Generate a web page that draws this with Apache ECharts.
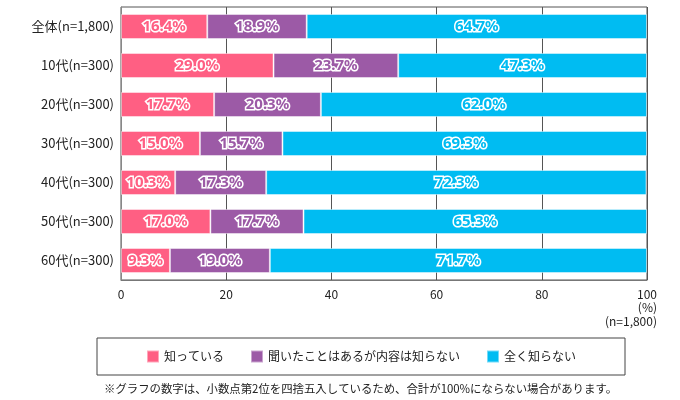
<!DOCTYPE html>
<html>
<head>
<meta charset="utf-8">
<script src="https://cdn.jsdelivr.net/npm/echarts@6/dist/echarts.min.js"></script>
<style>
    html, body { margin: 0; padding: 0; background: #fff; }
    #chart { width: 680px; height: 400px; }
</style>
</head>
<body>
<div id="chart"></div>
<script>
'use strict';

// 年代別カテゴリ
var categories = ['全体(n=1,800)', '10代(n=300)', '20代(n=300)', '30代(n=300)', '40代(n=300)', '50代(n=300)', '60代(n=300)'];
var seriesNames = ['知っている', '聞いたことはあるが内容は知らない', '全く知らない'];

// 各回答の割合 (%)
var knowValues = [16.4, 29.0, 17.7, 15.0, 10.3, 17.0, 9.3];
var heardValues = [18.9, 23.7, 20.3, 15.7, 17.3, 17.7, 19.0];
var unknownValues = [64.7, 47.3, 62.0, 69.3, 72.3, 65.3, 71.7];

var xTicks = [0, 20, 40, 60, 80, 100];

var colors = ['#ff5f83', '#9c5aa6', '#00bcf2'];
var fontJa = '"Noto Sans CJK JP", "Noto Sans", sans-serif';

var chart = echarts.init(document.getElementById('chart'));

function makeSeries(name, values, idx) {
    return {
        name: name,
        type: 'bar',
        stack: 'total',
        barWidth: 25,
        data: values,
        itemStyle: {
            color: colors[idx],
            borderColor: 'rgba(255,255,255,0.45)',
            borderWidth: 1
        },
        label: {
            show: true,
            position: 'inside',
            formatter: function (p) {
                return p.value.toFixed(1) + '%';
            },
            color: colors[idx],
            fontFamily: '"Noto Sans", sans-serif',
            fontWeight: 'bold',
            fontSize: 15,
            textBorderColor: '#fff',
            textBorderWidth: 3
        }
    };
}

chart.setOption({
    animation: false,
    textStyle: { fontFamily: fontJa },
    grid: {
        left: 121,
        right: 33,
        top: 7,
        bottom: 120,
        show: true,
        borderColor: '#555',
        borderWidth: 1
    },
    legend: {
        data: seriesNames,
        left: 97,
        top: 338,
        padding: [11.5, 49, 11.5, 49],
        itemWidth: 12,
        itemHeight: 12,
        itemGap: 26,
        icon: 'rect',
        borderColor: '#444',
        borderWidth: 1,
        textStyle: { fontSize: 12, color: '#222', fontFamily: fontJa }
    },
    xAxis: {
        type: 'value',
        min: xTicks[0],
        max: xTicks[xTicks.length - 1],
        interval: 20,
        axisLine: { show: true, lineStyle: { color: '#777' } },
        axisTick: { show: false },
        splitLine: { show: true, lineStyle: { color: '#555' } },
        axisLabel: { color: '#222', fontSize: 12, margin: 8, fontFamily: fontJa }
    },
    yAxis: {
        type: 'category',
        inverse: true,
        data: categories,
        axisLine: { show: true, lineStyle: { color: '#888' } },
        axisTick: { show: false },
        axisLabel: { color: '#222', fontSize: 13, margin: 7, fontFamily: fontJa }
    },
    series: [
        makeSeries(seriesNames[0], knowValues, 0),
        makeSeries(seriesNames[1], heardValues, 1),
        makeSeries(seriesNames[2], unknownValues, 2)
    ],
    graphic: [
        {
            type: 'text',
            right: 23,
            top: 301,
            style: { text: '(%)', fill: '#222', fontSize: 12, fontFamily: fontJa, align: 'right' }
        },
        {
            type: 'text',
            right: 23,
            top: 315,
            style: { text: '(n=1,800)', fill: '#222', fontSize: 12, fontFamily: fontJa, align: 'right' }
        },
        {
            type: 'text',
            left: 104,
            top: 383,
            style: {
                text: '※グラフの数字は、小数点第2位を四捨五入しているため、合計が100%にならない場合があります。',
                fill: '#222',
                fontSize: 11.4,
                fontFamily: fontJa
            }
        }
    ]
});
</script>
</body>
</html>
